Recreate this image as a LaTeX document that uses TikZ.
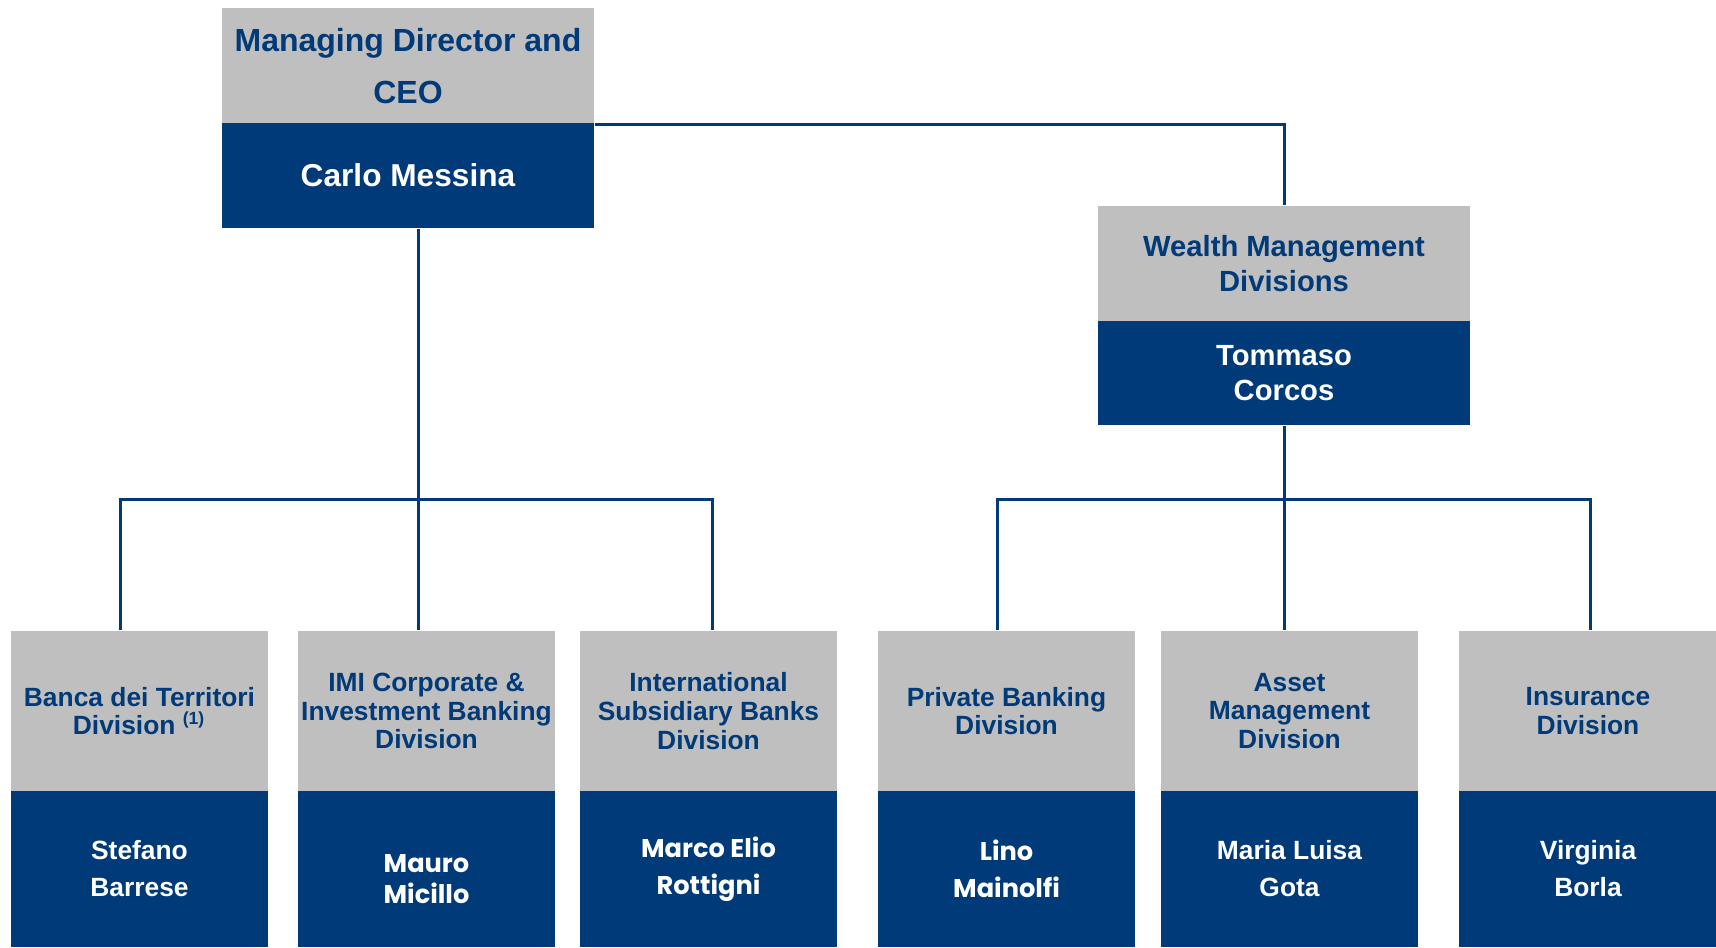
\documentclass[tikz,border=0pt]{standalone}
\usepackage{fontspec}
\setmainfont{Liberation Sans}
\newfontfamily\gothicfont{Poppins}
\usepackage{tikz}
\definecolor{ispblue}{RGB}{0,58,120}
\definecolor{ispgrey}{RGB}{191,191,191}

\begin{document}
\begin{tikzpicture}[x=0.01cm, y=-0.01cm]
    \tikzstyle{headbox}=[fill=ispgrey,text=ispblue,align=center,inner sep=0pt,minimum width=2.57cm,minimum height=1.6cm,font=\fontsize{7.5}{8.2}\selectfont\bfseries]
    \tikzstyle{namebox}=[fill=ispblue,text=white,align=center,inner sep=0pt,minimum width=2.57cm,minimum height=1.56cm,font=\fontsize{7.5}{10.5}\selectfont\bfseries]
    \tikzstyle{bighead}=[headbox,minimum width=3.72cm,minimum height=1.15cm]
    \tikzstyle{bigname}=[namebox,minimum width=3.72cm,minimum height=1.05cm]
    \tikzstyle{link}=[draw=ispblue,line width=0.03cm]

    \useasboundingbox (0,0) rectangle (1716,947);

    % top level
    \node[bighead,font=\fontsize{9.1}{14.8}\selectfont\bfseries] (ceoH) at (408,66) {Managing Director and\\CEO};
    \node[bigname,font=\fontsize{9.0}{11}\selectfont\bfseries] (ceoN) at (408,175.5) {Carlo Messina};

    \node[bighead,font=\fontsize{8.3}{10}\selectfont\bfseries] (wmH) at (1284,263.5) {Wealth Management\\Divisions};
    \node[bigname,minimum height=1.04cm,font=\fontsize{8.3}{10}\selectfont\bfseries] (wmN) at (1284,373) {Tommaso\\Corcos};

    % divisions
    \node[headbox] (btH) at (139.5,711) {Banca dei Territori\\Division \textsuperscript{\fontsize{5}{5}\selectfont(1)}};
    \node[namebox] (btN) at (139.5,869) {Stefano\\Barrese};

    \node[headbox] (imiH) at (426.5,711) {IMI Corporate \&\\Investment Banking\\Division};
    \node[namebox,font=\fontsize{7.3}{9.4}\selectfont\gothicfont\bfseries] (imiN) at (426.5,869) {\raisebox{-0.1cm}[\height][\depth]{\shortstack{Mauro\\Micillo}}};

    \node[headbox] (isbH) at (708.5,711) {International\\Subsidiary Banks\\Division};
    \node[namebox,font=\fontsize{7.3}{10.5}\selectfont\gothicfont\bfseries] (isbN) at (708.5,869) {Marco Elio\\Rottigni};

    \node[headbox] (pbH) at (1006.5,711) {Private Banking\\Division};
    \node[namebox,font=\fontsize{7.3}{10.5}\selectfont\gothicfont\bfseries] (pbN) at (1006.5,869) {Lino\\Mainolfi};

    \node[headbox] (amH) at (1289.5,711) {Asset\\Management\\Division};
    \node[namebox] (amN) at (1289.5,869) {Maria Luisa\\Gota};

    \node[headbox] (insH) at (1588,711) {Insurance\\Division};
    \node[namebox] (insN) at (1588,869) {Virginia\\Borla};

    % connectors
    \coordinate (busL) at (418,499);
    \coordinate (busR) at (1284,499);

    \path[link] (ceoH.south east) -| (wmH.north);
    \path[link] (busL |- ceoN.south) -- (busL |- imiH.north);
    \path[link] ([xshift=-0.185cm]btH.north) |- (busL) -| ([xshift=0.035cm]isbH.north);
    \path[link] (wmN.south) -- (wmN.south |- amH.north);
    \path[link] ([xshift=-0.095cm]pbH.north) |- (busR) -| ([xshift=0.02cm]insH.north);
\end{tikzpicture}
\end{document}
